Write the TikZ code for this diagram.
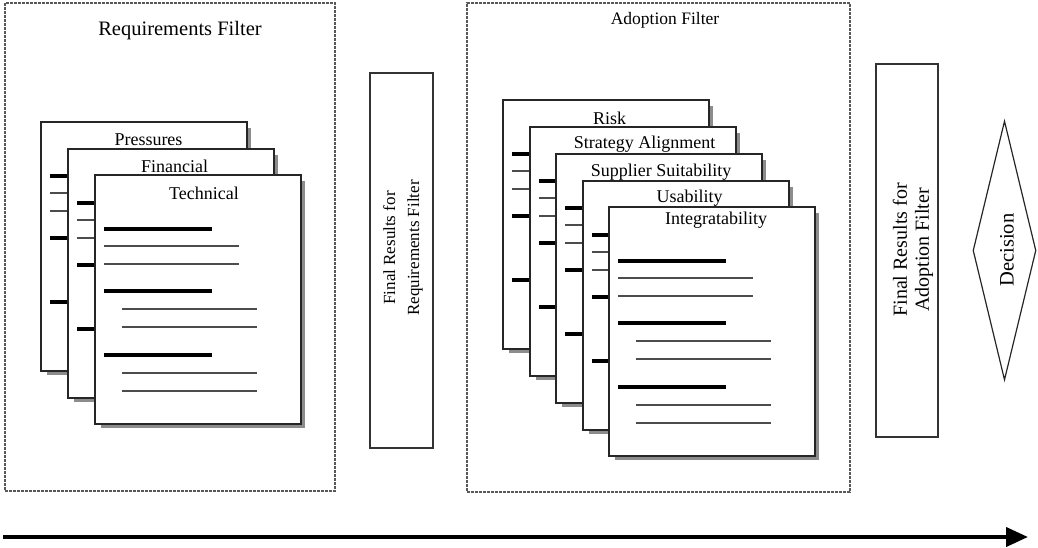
\documentclass[tikz,border=0pt]{standalone}
\usepackage{fontspec}
\setmainfont{Liberation Serif}
\usetikzlibrary{arrows.meta,shapes.geometric}

% one document page of a stack: #1 name, #2 left, #3 top, #4 title, #5 title x, #6 title y
\newcommand\docpage[6]{%
  \begin{scope}[shift={(#2,#3)}]
    \fill[pageshadow] (6,6) rectangle (210,253);
    \node[pagebox] (#1) at (103,124.5) {};
    \node[pagetitle] (#1-title) at (#5,#6) {#4};
    \draw[thickrule] (9,54) -- (117,54);
    \draw[thinrule] (9,71) -- (144,71);
    \draw[thinrule] (9,89) -- (144,89);
    \draw[thickrule] (9,116) -- (117,116);
    \draw[thinrule] (27,134) -- (162,134);
    \draw[thinrule] (27,152) -- (162,152);
    \draw[thickrule] (9,180) -- (117,180);
    \draw[thinrule] (27,198) -- (162,198);
    \draw[thinrule] (27,216) -- (162,216);
  \end{scope}}

\begin{document}
\begin{tikzpicture}[x=1pt,y=-1pt,
  filterframe/.style={draw=black!65,line width=1.2pt,dash pattern=on 3pt off 1pt,
    rectangle,inner sep=0pt},
  pagebox/.style={draw=black!85,line width=1.4pt,fill=white,rectangle,inner sep=0pt,
    minimum width=206pt,minimum height=249pt},
  pageshadow/.style={fill=black!45},
  pagetitle/.style={font=\fontsize{18}{21}\selectfont,inner sep=0pt},
  thickrule/.style={line width=3.8pt,black},
  thinrule/.style={line width=1.7pt,black!70},
  resultbox/.style={draw=black!80,line width=1.4pt,rectangle,inner sep=0pt},
  sidetext/.style={rotate=90,align=center,inner sep=0pt}]
\useasboundingbox (0,0) rectangle (1038,548);

% filter frames
\node[filterframe,minimum width=330pt,minimum height=488pt] (reqframe) at (170,247) {};
\node[font=\fontsize{20.5}{24}\selectfont,inner sep=0pt] (reqtitle) at (180,31) {Requirements Filter};
\node[filterframe,minimum width=383pt,minimum height=489pt] (adoframe) at (658.5,247.5) {};
\node[font=\fontsize{17.5}{21}\selectfont,inner sep=0pt] (adotitle) at (665,20) {Adoption Filter};

% requirements pages
\docpage{pres}{41}{122}{Pressures}{107.5}{18}
\docpage{fin}{68}{149}{Financial}{106.5}{17}
\docpage{tech}{95}{175}{Technical}{109}{18}

% adoption pages
\docpage{risk}{503}{100}{Risk}{106.5}{18}
\docpage{strat}{530}{127}{Strategy Alignment}{114.5}{17}
\docpage{supp}{556}{154}{Supplier Suitability}{105}{18}
\docpage{usab}{583}{181}{Usability}{106.5}{17.5}
\docpage{integ}{609}{207}{Integratability}{107}{13.5}

% final results boxes
\node[resultbox,minimum width=63pt,minimum height=375pt] (resreq) at (401.5,260.5) {};
\node[sidetext,font=\fontsize{17}{24}\selectfont] (resreqtext) at (403,248)
  {Final Results for\\Requirements Filter};
\node[resultbox,minimum width=62pt,minimum height=373pt] (resado) at (907,250.5) {};
\node[sidetext,font=\fontsize{20}{22}\selectfont] (resadotext) at (913,250)
  {Final Results for\\Adoption Filter};

% decision
\node[diamond,draw=black!85,line width=1.2pt,inner sep=0pt,
  minimum width=63pt,minimum height=259pt] (dec) at (1004.5,250.5) {};
\node[sidetext,font=\fontsize{20.5}{24}\selectfont] (dectext) at (1007,250) {Decision};

% time axis
\coordinate (axisstart) at (3,537);
\coordinate (axisend) at (1028,537);
\draw[line width=4pt,-{Triangle[length=22pt,width=19pt]}] (axisstart) -- (axisend);
\end{tikzpicture}
\end{document}
